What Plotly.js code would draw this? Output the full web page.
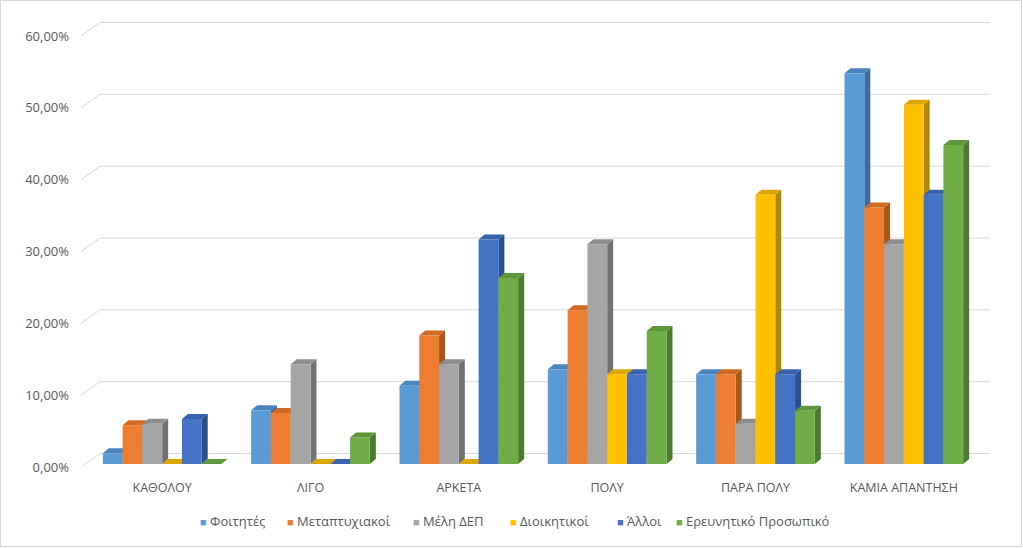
<!DOCTYPE html>
<html><head><meta charset="utf-8">
<script src="https://cdn.plot.ly/plotly-3.0.1.min.js"></script>
<style>
body{margin:0;background:#fff}
#wrap{position:relative;width:1023px;height:548px}
#chart{width:1023px;height:548px}
#frame{position:absolute;left:0;top:0;width:1020px;height:545px;border:1px solid #d9d9d9;pointer-events:none}
</style>
</head><body><div id="wrap"><div id="chart"></div><div id="frame"></div></div>
<script>
const categories = ['ΚΑΘΟΛΟΥ','ΛΙΓΟ','ΑΡΚΕΤΑ','ΠΟΛΥ','ΠΑΡΑ ΠΟΛΥ','ΚΑΜΙΑ ΑΠΑΝΤΗΣΗ'];
const seriesNames = ['Φοιτητές','Μεταπτυχιακοί','Μέλη ΔΕΠ','Διοικητικοί','Άλλοι','Ερευνητικό Προσωπικό'];
const foitites      = [0.015, 0.075, 0.109, 0.132, 0.125, 0.544];
const metaptyxiakoi = [0.054, 0.071, 0.179, 0.214, 0.125, 0.357];
const melhDEP       = [0.056, 0.139, 0.139, 0.306, 0.056, 0.306];
const dioikitikoi   = [0, 0, 0, 0.125, 0.375, 0.5];
const alloi         = [0.0625, 0, 0.3125, 0.125, 0.125, 0.375];
const erevnitiko    = [0, 0.037, 0.259, 0.185, 0.074, 0.444];
const yTicks = [0, 0.1, 0.2, 0.3, 0.4, 0.5, 0.6];

const seriesValues = [foitites, metaptyxiakoi, melhDEP, dioikitikoi, alloi, erevnitiko];
const frontColors = ['#5B9BD5','#ED7D31','#A5A5A5','#FFC000','#4472C4','#70AD47'];
const topColors   = ['#4A84BE','#D06A22','#8E8E8E','#DCA600','#3A63AD','#5F963B'];
const sideColors  = ['#3B6E9D','#A9561B','#727272','#B38700','#2C4F8E','#4C7A30'];

const W = 1023, H = 548, L = 88, R = 45, T = 33, B = 84;
const plotW = W - L - R, plotH = H - T - B;
const yMax = 0.6;
const pxPerCat = plotW / categories.length;
const pxPerUnit = plotH / yMax;
const depthX = 6 / pxPerCat, depthY = 5 / pxPerUnit;
const bargap = 0.2;
const nS = seriesValues.length;
const bw = (1 - bargap) / nS;

const traces = seriesValues.map((vals, i) => ({
  type: 'bar', x: categories, y: vals, name: seriesNames[i],
  marker: {color: frontColors[i], line: {width: 0}},
  hoverinfo: 'skip', showlegend: false
}));

const shapes = [];
yTicks.forEach(v => {
  shapes.push({type:'path', xref:'paper', yref:'paper', xsizemode:'pixel', ysizemode:'pixel',
    xanchor:0, yanchor:v / yMax, path:'M -7,-3 L 12,10.5 L 902,10.5',
    line:{color:'#d9d9d9', width:1}, layer:'below'});
});
categories.forEach((c, j) => {
  seriesValues.forEach((vals, i) => {
    const v = vals[j];
    const xl = j - (1 - bargap) / 2 + i * bw;
    const xr = xl + bw;
    shapes.push({type:'path', xref:'x', yref:'y', layer:'below',
      path:`M ${xr},0 L ${xr+depthX},${depthY} L ${xr+depthX},${v+depthY} L ${xr},${v} Z`,
      fillcolor: sideColors[i], line:{width:0}});
    shapes.push({type:'path', xref:'x', yref:'y', layer:'below',
      path:`M ${xl},${v} L ${xr},${v} L ${xr+depthX},${v+depthY} L ${xl+depthX},${v+depthY} Z`,
      fillcolor: topColors[i], line:{width:0}});
  });
});

const legendX = [198, 285, 411, 508, 615, 674];
const legendY = 521;
const annotations = seriesNames.map((n, i) => ({
  xref:'paper', yref:'paper', x:(legendX[i]-L)/plotW, y:(T+plotH-legendY)/plotH,
  xanchor:'left', yanchor:'middle', showarrow:false,
  text:`<span style="color:${frontColors[i]};font-size:11px">■</span> ${n}`,
  font:{family:'Open Sans, sans-serif', size:13, color:'#595959'}
}));

const layout = {
  width: W, height: H,
  margin: {l: L, r: R, t: T, b: B, pad: 0},
  paper_bgcolor: '#ffffff', plot_bgcolor: 'rgba(0,0,0,0)',
  separators: ',.',
  barmode: 'group', bargap: bargap, bargroupgap: 0,
  showlegend: false,
  xaxis: {type:'category', range:[-0.5, categories.length - 0.5], showgrid:false, zeroline:false,
    showline:false, ticks:'', ticklabelstandoff: 14,
    tickfont:{family:'Open Sans, sans-serif', size:12.5, color:'#595959'}, fixedrange:true},
  yaxis: {range:[0, yMax], tickvals: yTicks, tickformat:'.2%', showgrid:false, zeroline:false,
    showline:false, ticks:'', ticklabelstandoff: 18, ticklabelshift: 3,
    tickfont:{family:'Open Sans, sans-serif', size:13, color:'#595959'}, fixedrange:true},
  shapes: shapes,
  annotations: annotations
};

Plotly.newPlot('chart', traces, layout, {displayModeBar:false, staticPlot:true});
</script>
</body></html>
